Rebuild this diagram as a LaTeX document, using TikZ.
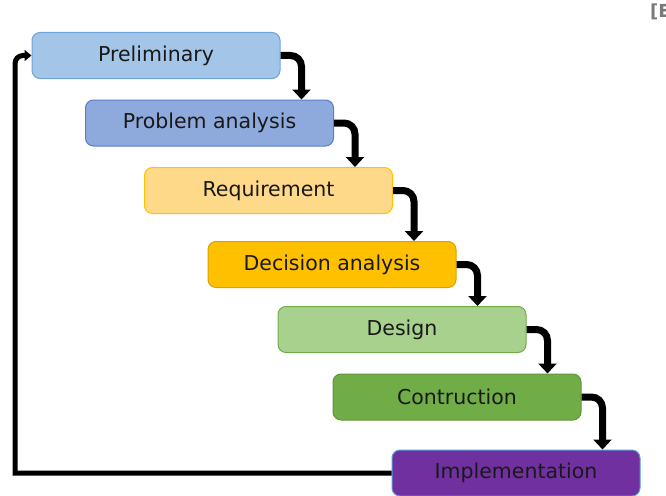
\documentclass[tikz,border=0pt]{standalone}
\usepackage{fontspec}
\setmainfont{DejaVu Sans}
\usetikzlibrary{arrows.meta}

\definecolor{prelimfill}{HTML}{A2C5E8}
\definecolor{prelimdraw}{HTML}{6FA3DA}
\definecolor{probfill}{HTML}{8EA9DB}
\definecolor{probdraw}{HTML}{5A7DC8}
\definecolor{reqfill}{HTML}{FFD98A}
\definecolor{reqdraw}{HTML}{FFC000}
\definecolor{decfill}{HTML}{FFC000}
\definecolor{decdraw}{HTML}{D9A300}
\definecolor{desfill}{HTML}{A9D18E}
\definecolor{desdraw}{HTML}{70AD47}
\definecolor{confill}{HTML}{70AD47}
\definecolor{condraw}{HTML}{5E9639}
\definecolor{impfill}{HTML}{7030A0}
\definecolor{impdraw}{HTML}{5B9BD5}
\definecolor{labelgray}{HTML}{7A7A7A}

\tikzset{
  stage/.style={rectangle, rounded corners=8pt, line width=1pt,
    minimum width=248pt, minimum height=46pt, inner sep=0pt,
    text=black!90, font=\fontsize{20.5}{24}\selectfont},
  flow/.style={line width=7pt, rounded corners=11pt,
    -{Triangle[width=18pt,length=10pt]}},
  loopback/.style={line width=5pt,
    -{Triangle[width=11pt,length=7pt]}}
}

\begin{document}
\begin{tikzpicture}[x=1pt,y=-1pt]
  \useasboundingbox (0,0) rectangle (666,495);
  \clip (0,0) rectangle (666,495);

  % stages of the cycle
  \node[stage, fill=prelimfill, draw=prelimdraw] (p1) at (156,55.5)  {Preliminary};
  \node[stage, fill=probfill,   draw=probdraw]   (p2) at (209.5,123)  {Problem analysis};
  \node[stage, fill=reqfill,    draw=reqdraw]    (p3) at (268.5,190.5){Requirement};
  \node[stage, fill=decfill,    draw=decdraw]    (p4) at (332,264.5)  {Decision analysis};
  \node[stage, fill=desfill,    draw=desdraw]    (p5) at (402,329.5)  {Design};
  \node[stage, fill=confill,    draw=condraw]    (p6) at (457,397)    {Contruction};
  \node[stage, fill=impfill,    draw=impdraw]    (p7) at (516,473)    {Implementation};

  % corner reference mark
  \node[anchor=north west, text=labelgray, inner sep=0pt,
        font=\bfseries\fontsize{18}{20}\selectfont] (ref) at (650,4) {[E};

  % turning points of the step connectors
  \foreach \s in {1,...,6} {
    \coordinate (v\s) at ([xshift=21pt]p\s.east);
  }

  % step connectors
  \draw[flow] (p1.east) -| (v1 |- p2.north);
  \draw[flow] (p2.east) -| (v2 |- p3.north);
  \draw[flow] (p3.east) -| (v3 |- p4.north);
  \draw[flow] (p4.east) -| (v4 |- p5.north);
  \draw[flow] (p5.east) -| (v5 |- p6.north);
  \draw[flow] (p6.east) -| (v6 |- p7.north);

  % return path back to the start
  \coordinate (rb) at (15,473);
  \coordinate (rt) at (15,55.5);
  \draw[loopback] (p7.west) -- (rb) [rounded corners=8pt] -- (rt) -- (p1.west);
\end{tikzpicture}
\end{document}
